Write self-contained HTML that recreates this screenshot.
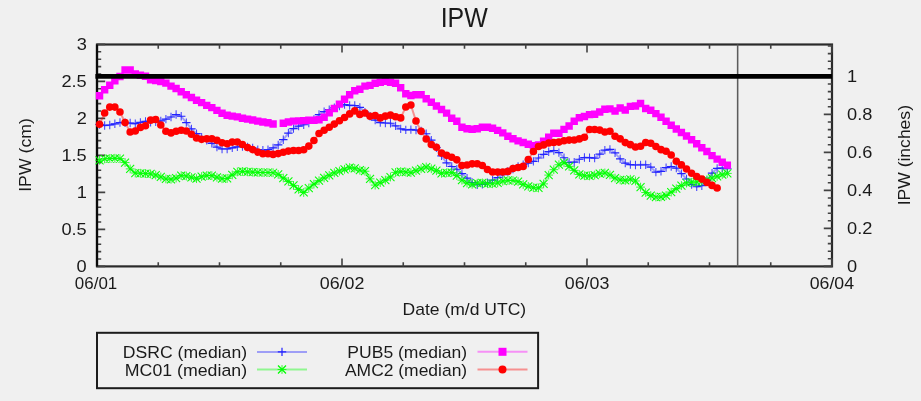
<!DOCTYPE html>
<html lang="en"><head><meta charset="utf-8"><title>IPW</title>
<style>html,body{margin:0;padding:0;background:#f0f0f0;}body{width:921px;height:401px;overflow:hidden;}svg{display:block;}text{font-family:"Liberation Sans", sans-serif;fill:#1a1a1a;}</style></head><body>
<svg width="921" height="401" viewBox="0 0 921 401">
<rect width="921" height="401" fill="#f0f0f0"/>
<rect x="97" y="44.5" width="735" height="221.89999999999998" stroke="#2a2a2a" stroke-width="2.2" fill="none"/>
<path d="M97 266.40h8.2M97 259.00h4.2M97 251.60h4.2M97 244.20h4.2M97 236.80h4.2M97 229.40h8.2M97 222.00h4.2M97 214.60h4.2M97 207.20h4.2M97 199.80h4.2M97 192.40h8.2M97 185.00h4.2M97 177.60h4.2M97 170.20h4.2M97 162.80h4.2M97 155.40h8.2M97 148.00h4.2M97 140.60h4.2M97 133.20h4.2M97 125.80h4.2M97 118.40h8.2M97 111.00h4.2M97 103.60h4.2M97 96.20h4.2M97 88.80h4.2M97 81.40h8.2M97 74.00h4.2M97 66.60h4.2M97 59.20h4.2M97 51.80h4.2M97 44.40h8.2M832 266.40h-8.2M832 258.80h-4.2M832 251.20h-4.2M832 243.60h-4.2M832 236.00h-4.2M832 228.40h-8.2M832 220.80h-4.2M832 213.20h-4.2M832 205.60h-4.2M832 198.00h-4.2M832 190.40h-8.2M832 182.80h-4.2M832 175.20h-4.2M832 167.60h-4.2M832 160.00h-4.2M832 152.40h-8.2M832 144.80h-4.2M832 137.20h-4.2M832 129.60h-4.2M832 122.00h-4.2M832 114.40h-8.2M832 106.80h-4.2M832 99.20h-4.2M832 91.60h-4.2M832 84.00h-4.2M832 76.40h-8.2M832 68.80h-4.2M832 61.20h-4.2M832 53.60h-4.2M832 46.00h-4.2M97.00 266.4v-8M97.00 44.5v8M158.25 266.4v-4.2M158.25 44.5v4.2M219.50 266.4v-4.2M219.50 44.5v4.2M280.75 266.4v-4.2M280.75 44.5v4.2M342.00 266.4v-8M342.00 44.5v8M403.25 266.4v-4.2M403.25 44.5v4.2M464.50 266.4v-4.2M464.50 44.5v4.2M525.75 266.4v-4.2M525.75 44.5v4.2M587.00 266.4v-8M587.00 44.5v8M648.25 266.4v-4.2M648.25 44.5v4.2M709.50 266.4v-4.2M709.50 44.5v4.2M770.75 266.4v-4.2M770.75 44.5v4.2M832.00 266.4v-8M832.00 44.5v8" stroke="#424242" stroke-width="1.6" fill="none"/>
<path d="M97 44.5V266.4" stroke="#0a0a0a" stroke-width="2.2"/>
<text transform="translate(440.69,26.8) scale(0.8970,1)" font-size="27.8" fill="#111">IPW</text>
<text transform="translate(76.57,272.0) scale(1.0850,1)" font-size="16.8" fill="#1a1a1a">0</text>
<text transform="translate(61.39,235.0) scale(1.0850,1)" font-size="16.8" fill="#1a1a1a">0.5</text>
<text transform="translate(76.75,198.0) scale(1.0850,1)" font-size="16.8" fill="#1a1a1a">1</text>
<text transform="translate(61.39,161.0) scale(1.0850,1)" font-size="16.8" fill="#1a1a1a">1.5</text>
<text transform="translate(76.75,124.0) scale(1.0850,1)" font-size="16.8" fill="#1a1a1a">2</text>
<text transform="translate(61.39,87.0) scale(1.0850,1)" font-size="16.8" fill="#1a1a1a">2.5</text>
<text transform="translate(76.66,50.0) scale(1.0850,1)" font-size="16.8" fill="#1a1a1a">3</text>
<text transform="translate(847.02,271.9) scale(1.0850,1)" font-size="16.8" fill="#1a1a1a">0</text>
<text transform="translate(847.02,233.9) scale(1.0850,1)" font-size="16.8" fill="#1a1a1a">0.2</text>
<text transform="translate(847.02,195.9) scale(1.0850,1)" font-size="16.8" fill="#1a1a1a">0.4</text>
<text transform="translate(847.02,157.9) scale(1.0850,1)" font-size="16.8" fill="#1a1a1a">0.6</text>
<text transform="translate(847.02,119.9) scale(1.0850,1)" font-size="16.8" fill="#1a1a1a">0.8</text>
<text transform="translate(847.03,81.9) scale(1.0850,1)" font-size="16.8" fill="#1a1a1a">1</text>
<text transform="translate(74.86,289.0) scale(1.0095,1)" font-size="16.8" fill="#1a1a1a">06/01</text>
<text transform="translate(319.73,289.0) scale(1.0637,1)" font-size="16.8" fill="#1a1a1a">06/02</text>
<text transform="translate(564.73,289.0) scale(1.0615,1)" font-size="16.8" fill="#1a1a1a">06/03</text>
<text transform="translate(809.74,289.0) scale(1.0549,1)" font-size="16.8" fill="#1a1a1a">06/04</text>
<text transform="translate(402.55,315.2) scale(1.0437,1)" font-size="16.8" fill="#1a1a1a">Date (m/d UTC)</text>
<text transform="translate(31.0,191.84) rotate(-90) scale(1.0533,1)" font-size="16.8" fill="#1a1a1a">IPW (cm)</text>
<text transform="translate(909.7,205.32) rotate(-90) scale(1.0441,1)" font-size="16.8" fill="#1a1a1a">IPW (inches)</text>
<g stroke="#2222ff" fill="none">
<polyline points="99.55,124.51 104.65,125.44 109.76,125.02 114.86,123.78 119.97,122.51 125.07,122.8 130.17,123.03 135.28,123.68 140.38,122.4 145.49,121.34 150.59,122.25 155.69,121.92 160.8,120.97 165.9,119.14 171.01,117.02 176.11,114.57 181.21,116.24 186.32,122.59 191.42,128.92 196.53,133.64 201.63,137.27 206.73,140.42 211.84,143.37 216.94,147.08 222.05,148.95 227.15,148.99 232.25,147.87 237.36,146.78 242.46,146.46 247.57,146.96 252.67,148.06 257.77,149.62 262.88,150.25 267.98,149.71 273.09,147.96 278.19,144.93 283.29,139.69 288.4,133.05 293.5,128.58 298.61,126.15 303.71,124.76 308.81,122.97 313.92,119.56 319.02,114.53 324.13,111.64 329.23,109.66 334.33,107.75 339.44,106.17 344.54,104.64 349.65,105.43 354.75,105.5 359.85,107.44 364.96,112.1 370.06,116.3 375.17,120.08 380.27,122.53 385.37,123.0 390.48,123.24 395.58,125.88 400.69,128.92 405.79,129.92 410.89,129.59 416.0,130.1 421.1,131.07 426.21,133.73 431.31,140.09 436.41,147.7 441.52,155.88 446.62,162.78 451.73,166.49 456.83,169.24 461.93,173.62 467.04,178.21 472.14,182.48 477.25,184.7 482.35,184.37 487.45,182.77 492.56,180.22 497.66,177.6 502.77,174.54 507.87,171.56 512.97,169.01 518.08,166.57 523.18,164.65 528.29,163.15 533.39,161.42 538.49,158.0 543.6,154.34 548.7,151.71 553.81,150.52 558.91,152.66 564.01,157.76 569.12,162.5 574.22,162.22 579.33,159.27 584.43,157.5 589.53,157.7 594.64,158.08 599.74,154.11 604.85,150.12 609.95,149.35 615.05,152.88 620.16,158.91 625.26,163.1 630.37,164.66 635.47,165.0 640.57,164.85 645.68,164.74 650.78,167.03 655.89,172.14 660.99,171.31 666.09,167.62 671.2,166.51 676.3,168.15 681.41,173.63 686.51,179.01 691.61,184.53 696.72,186.77 701.82,185.7 706.93,180.63 712.03,173.21 717.13,168.33 722.24,168.0 727.34,168.73" stroke-width="2" stroke-opacity="0.4"/>
<path d="M95.35 124.51h8.4M100.45 125.44h8.4M105.56 125.02h8.4M110.66 123.78h8.4M115.77 122.51h8.4M120.87 122.8h8.4M125.97 123.03h8.4M131.08 123.68h8.4M136.18 122.4h8.4M141.29 121.34h8.4M146.39 122.25h8.4M151.49 121.92h8.4M156.60 120.97h8.4M161.70 119.14h8.4M166.81 117.02h8.4M171.91 114.57h8.4M177.01 116.24h8.4M182.12 122.59h8.4M187.22 128.92h8.4M192.33 133.64h8.4M197.43 137.27h8.4M202.53 140.42h8.4M207.64 143.37h8.4M212.74 147.08h8.4M217.85 148.95h8.4M222.95 148.99h8.4M228.05 147.87h8.4M233.16 146.78h8.4M238.26 146.46h8.4M243.37 146.96h8.4M248.47 148.06h8.4M253.57 149.62h8.4M258.68 150.25h8.4M263.78 149.71h8.4M268.89 147.96h8.4M273.99 144.93h8.4M279.09 139.69h8.4M284.20 133.05h8.4M289.30 128.58h8.4M294.41 126.15h8.4M299.51 124.76h8.4M304.61 122.97h8.4M309.72 119.56h8.4M314.82 114.53h8.4M319.93 111.64h8.4M325.03 109.66h8.4M330.13 107.75h8.4M335.24 106.17h8.4M340.34 104.64h8.4M345.45 105.43h8.4M350.55 105.5h8.4M355.65 107.44h8.4M360.76 112.1h8.4M365.86 116.3h8.4M370.97 120.08h8.4M376.07 122.53h8.4M381.17 123.0h8.4M386.28 123.24h8.4M391.38 125.88h8.4M396.49 128.92h8.4M401.59 129.92h8.4M406.69 129.59h8.4M411.80 130.1h8.4M416.90 131.07h8.4M422.01 133.73h8.4M427.11 140.09h8.4M432.21 147.7h8.4M437.32 155.88h8.4M442.42 162.78h8.4M447.53 166.49h8.4M452.63 169.24h8.4M457.73 173.62h8.4M462.84 178.21h8.4M467.94 182.48h8.4M473.05 184.7h8.4M478.15 184.37h8.4M483.25 182.77h8.4M488.36 180.22h8.4M493.46 177.6h8.4M498.57 174.54h8.4M503.67 171.56h8.4M508.77 169.01h8.4M513.88 166.57h8.4M518.98 164.65h8.4M524.09 163.15h8.4M529.19 161.42h8.4M534.29 158.0h8.4M539.40 154.34h8.4M544.50 151.71h8.4M549.61 150.52h8.4M554.71 152.66h8.4M559.81 157.76h8.4M564.92 162.5h8.4M570.02 162.22h8.4M575.13 159.27h8.4M580.23 157.5h8.4M585.33 157.7h8.4M590.44 158.08h8.4M595.54 154.11h8.4M600.65 150.12h8.4M605.75 149.35h8.4M610.85 152.88h8.4M615.96 158.91h8.4M621.06 163.1h8.4M626.17 164.66h8.4M631.27 165.0h8.4M636.37 164.85h8.4M641.48 164.74h8.4M646.58 167.03h8.4M651.69 172.14h8.4M656.79 171.31h8.4M661.89 167.62h8.4M667.00 166.51h8.4M672.10 168.15h8.4M677.21 173.63h8.4M682.31 179.01h8.4M687.41 184.53h8.4M692.52 186.77h8.4M697.62 185.7h8.4M702.73 180.63h8.4M707.83 173.21h8.4M712.93 168.33h8.4M718.04 168.0h8.4M723.14 168.73h8.4" stroke-width="1.2"/>
<path d="M99.55 120.31v8.4M104.65 121.24v8.4M109.76 120.82v8.4M114.86 119.58v8.4M119.97 118.31v8.4M125.07 118.60v8.4M130.17 118.83v8.4M135.28 119.48v8.4M140.38 118.20v8.4M145.49 117.14v8.4M150.59 118.05v8.4M155.69 117.72v8.4M160.8 116.77v8.4M165.9 114.94v8.4M171.01 112.82v8.4M176.11 110.37v8.4M181.21 112.04v8.4M186.32 118.39v8.4M191.42 124.72v8.4M196.53 129.44v8.4M201.63 133.07v8.4M206.73 136.22v8.4M211.84 139.17v8.4M216.94 142.88v8.4M222.05 144.75v8.4M227.15 144.79v8.4M232.25 143.67v8.4M237.36 142.58v8.4M242.46 142.26v8.4M247.57 142.76v8.4M252.67 143.86v8.4M257.77 145.42v8.4M262.88 146.05v8.4M267.98 145.51v8.4M273.09 143.76v8.4M278.19 140.73v8.4M283.29 135.49v8.4M288.4 128.85v8.4M293.5 124.38v8.4M298.61 121.95v8.4M303.71 120.56v8.4M308.81 118.77v8.4M313.92 115.36v8.4M319.02 110.33v8.4M324.13 107.44v8.4M329.23 105.46v8.4M334.33 103.55v8.4M339.44 101.97v8.4M344.54 100.44v8.4M349.65 101.23v8.4M354.75 101.30v8.4M359.85 103.24v8.4M364.96 107.90v8.4M370.06 112.10v8.4M375.17 115.88v8.4M380.27 118.33v8.4M385.37 118.80v8.4M390.48 119.04v8.4M395.58 121.68v8.4M400.69 124.72v8.4M405.79 125.72v8.4M410.89 125.39v8.4M416.0 125.90v8.4M421.1 126.87v8.4M426.21 129.53v8.4M431.31 135.89v8.4M436.41 143.50v8.4M441.52 151.68v8.4M446.62 158.58v8.4M451.73 162.29v8.4M456.83 165.04v8.4M461.93 169.42v8.4M467.04 174.01v8.4M472.14 178.28v8.4M477.25 180.50v8.4M482.35 180.17v8.4M487.45 178.57v8.4M492.56 176.02v8.4M497.66 173.40v8.4M502.77 170.34v8.4M507.87 167.36v8.4M512.97 164.81v8.4M518.08 162.37v8.4M523.18 160.45v8.4M528.29 158.95v8.4M533.39 157.22v8.4M538.49 153.80v8.4M543.6 150.14v8.4M548.7 147.51v8.4M553.81 146.32v8.4M558.91 148.46v8.4M564.01 153.56v8.4M569.12 158.30v8.4M574.22 158.02v8.4M579.33 155.07v8.4M584.43 153.30v8.4M589.53 153.50v8.4M594.64 153.88v8.4M599.74 149.91v8.4M604.85 145.92v8.4M609.95 145.15v8.4M615.05 148.68v8.4M620.16 154.71v8.4M625.26 158.90v8.4M630.37 160.46v8.4M635.47 160.80v8.4M640.57 160.65v8.4M645.68 160.54v8.4M650.78 162.83v8.4M655.89 167.94v8.4M660.99 167.11v8.4M666.09 163.42v8.4M671.2 162.31v8.4M676.3 163.95v8.4M681.41 169.43v8.4M686.51 174.81v8.4M691.61 180.33v8.4M696.72 182.57v8.4M701.82 181.50v8.4M706.93 176.43v8.4M712.03 169.01v8.4M717.13 164.13v8.4M722.24 163.80v8.4M727.34 164.53v8.4" stroke-width="1.05" stroke-opacity="0.85"/></g>
<g stroke="#00ff00" fill="none">
<polyline points="99.55,160.28 104.65,158.85 109.76,158.51 114.86,158.26 119.97,158.65 125.07,162.57 130.17,168.9 135.28,173.01 140.38,173.27 145.49,173.52 150.59,173.89 155.69,175.08 160.8,176.93 165.9,178.89 171.01,179.26 176.11,178.03 181.21,175.62 186.32,176.02 191.42,177.4 196.53,178.64 201.63,176.6 206.73,175.54 211.84,175.61 216.94,177.31 222.05,178.71 227.15,178.43 232.25,174.97 237.36,171.91 242.46,171.43 247.57,171.82 252.67,172.13 257.77,172.39 262.88,172.5 267.98,172.5 273.09,172.75 278.19,174.4 283.29,178.03 288.4,181.43 293.5,185.42 298.61,189.41 303.71,192.48 308.81,188.04 313.92,184.13 319.02,180.69 324.13,177.97 329.23,175.38 334.33,172.83 339.44,171.02 344.54,169.3 349.65,167.55 354.75,168.4 359.85,170.22 364.96,171.24 370.06,178.83 375.17,185.09 380.27,182.6 385.37,180.1 390.48,177.02 395.58,172.4 400.69,171.55 405.79,172.02 410.89,172.64 416.0,170.6 421.1,168.77 426.21,167.02 431.31,168.73 436.41,170.71 441.52,173.26 446.62,172.79 451.73,172.6 456.83,175.58 461.93,180.2 467.04,183.04 472.14,184.4 477.25,183.23 482.35,182.89 487.45,183.74 492.56,183.75 497.66,182.86 502.77,181.21 507.87,180.35 512.97,180.5 518.08,181.58 523.18,184.47 528.29,186.38 533.39,187.72 538.49,187.95 543.6,183.87 548.7,175.08 553.81,169.69 558.91,164.73 564.01,162.71 569.12,166.37 574.22,170.38 579.33,174.46 584.43,175.74 589.53,175.91 594.64,175.06 599.74,173.65 604.85,172.94 609.95,174.98 615.05,178.03 620.16,179.85 625.26,180.44 630.37,179.25 635.47,180.98 640.57,187.11 645.68,192.54 650.78,195.58 655.89,197.04 660.99,196.92 666.09,195.52 671.2,192.12 676.3,188.72 681.41,185.55 686.51,183.0 691.61,182.23 696.72,181.83 701.82,181.32 706.93,179.77 712.03,178.07 717.13,176.37 722.24,174.67 727.34,173.4" stroke-width="2" stroke-opacity="0.4"/>
<path d="M95.15 160.28h8.8M99.55 155.88v8.8M100.25 158.85h8.8M104.65 154.45v8.8M105.36 158.51h8.8M109.76 154.11v8.8M110.46 158.26h8.8M114.86 153.86v8.8M115.57 158.65h8.8M119.97 154.25v8.8M120.67 162.57h8.8M125.07 158.17v8.8M125.77 168.9h8.8M130.17 164.50v8.8M130.88 173.01h8.8M135.28 168.61v8.8M135.98 173.27h8.8M140.38 168.87v8.8M141.09 173.52h8.8M145.49 169.12v8.8M146.19 173.89h8.8M150.59 169.49v8.8M151.29 175.08h8.8M155.69 170.68v8.8M156.40 176.93h8.8M160.8 172.53v8.8M161.50 178.89h8.8M165.9 174.49v8.8M166.61 179.26h8.8M171.01 174.86v8.8M171.71 178.03h8.8M176.11 173.63v8.8M176.81 175.62h8.8M181.21 171.22v8.8M181.92 176.02h8.8M186.32 171.62v8.8M187.02 177.4h8.8M191.42 173.00v8.8M192.13 178.64h8.8M196.53 174.24v8.8M197.23 176.6h8.8M201.63 172.20v8.8M202.33 175.54h8.8M206.73 171.14v8.8M207.44 175.61h8.8M211.84 171.21v8.8M212.54 177.31h8.8M216.94 172.91v8.8M217.65 178.71h8.8M222.05 174.31v8.8M222.75 178.43h8.8M227.15 174.03v8.8M227.85 174.97h8.8M232.25 170.57v8.8M232.96 171.91h8.8M237.36 167.51v8.8M238.06 171.43h8.8M242.46 167.03v8.8M243.17 171.82h8.8M247.57 167.42v8.8M248.27 172.13h8.8M252.67 167.73v8.8M253.37 172.39h8.8M257.77 167.99v8.8M258.48 172.5h8.8M262.88 168.10v8.8M263.58 172.5h8.8M267.98 168.10v8.8M268.69 172.75h8.8M273.09 168.35v8.8M273.79 174.4h8.8M278.19 170.00v8.8M278.89 178.03h8.8M283.29 173.63v8.8M284.00 181.43h8.8M288.4 177.03v8.8M289.10 185.42h8.8M293.5 181.02v8.8M294.21 189.41h8.8M298.61 185.01v8.8M299.31 192.48h8.8M303.71 188.08v8.8M304.41 188.04h8.8M308.81 183.64v8.8M309.52 184.13h8.8M313.92 179.73v8.8M314.62 180.69h8.8M319.02 176.29v8.8M319.73 177.97h8.8M324.13 173.57v8.8M324.83 175.38h8.8M329.23 170.98v8.8M329.93 172.83h8.8M334.33 168.43v8.8M335.04 171.02h8.8M339.44 166.62v8.8M340.14 169.3h8.8M344.54 164.90v8.8M345.25 167.55h8.8M349.65 163.15v8.8M350.35 168.4h8.8M354.75 164.00v8.8M355.45 170.22h8.8M359.85 165.82v8.8M360.56 171.24h8.8M364.96 166.84v8.8M365.66 178.83h8.8M370.06 174.43v8.8M370.77 185.09h8.8M375.17 180.69v8.8M375.87 182.6h8.8M380.27 178.20v8.8M380.97 180.1h8.8M385.37 175.70v8.8M386.08 177.02h8.8M390.48 172.62v8.8M391.18 172.4h8.8M395.58 168.00v8.8M396.29 171.55h8.8M400.69 167.15v8.8M401.39 172.02h8.8M405.79 167.62v8.8M406.49 172.64h8.8M410.89 168.24v8.8M411.60 170.6h8.8M416.0 166.20v8.8M416.70 168.77h8.8M421.1 164.37v8.8M421.81 167.02h8.8M426.21 162.62v8.8M426.91 168.73h8.8M431.31 164.33v8.8M432.01 170.71h8.8M436.41 166.31v8.8M437.12 173.26h8.8M441.52 168.86v8.8M442.22 172.79h8.8M446.62 168.39v8.8M447.33 172.6h8.8M451.73 168.20v8.8M452.43 175.58h8.8M456.83 171.18v8.8M457.53 180.2h8.8M461.93 175.80v8.8M462.64 183.04h8.8M467.04 178.64v8.8M467.74 184.4h8.8M472.14 180.00v8.8M472.85 183.23h8.8M477.25 178.83v8.8M477.95 182.89h8.8M482.35 178.49v8.8M483.05 183.74h8.8M487.45 179.34v8.8M488.16 183.75h8.8M492.56 179.35v8.8M493.26 182.86h8.8M497.66 178.46v8.8M498.37 181.21h8.8M502.77 176.81v8.8M503.47 180.35h8.8M507.87 175.95v8.8M508.57 180.5h8.8M512.97 176.10v8.8M513.68 181.58h8.8M518.08 177.18v8.8M518.78 184.47h8.8M523.18 180.07v8.8M523.89 186.38h8.8M528.29 181.98v8.8M528.99 187.72h8.8M533.39 183.32v8.8M534.09 187.95h8.8M538.49 183.55v8.8M539.20 183.87h8.8M543.6 179.47v8.8M544.30 175.08h8.8M548.7 170.68v8.8M549.41 169.69h8.8M553.81 165.29v8.8M554.51 164.73h8.8M558.91 160.33v8.8M559.61 162.71h8.8M564.01 158.31v8.8M564.72 166.37h8.8M569.12 161.97v8.8M569.82 170.38h8.8M574.22 165.98v8.8M574.93 174.46h8.8M579.33 170.06v8.8M580.03 175.74h8.8M584.43 171.34v8.8M585.13 175.91h8.8M589.53 171.51v8.8M590.24 175.06h8.8M594.64 170.66v8.8M595.34 173.65h8.8M599.74 169.25v8.8M600.45 172.94h8.8M604.85 168.54v8.8M605.55 174.98h8.8M609.95 170.58v8.8M610.65 178.03h8.8M615.05 173.63v8.8M615.76 179.85h8.8M620.16 175.45v8.8M620.86 180.44h8.8M625.26 176.04v8.8M625.97 179.25h8.8M630.37 174.85v8.8M631.07 180.98h8.8M635.47 176.58v8.8M636.17 187.11h8.8M640.57 182.71v8.8M641.28 192.54h8.8M645.68 188.14v8.8M646.38 195.58h8.8M650.78 191.18v8.8M651.49 197.04h8.8M655.89 192.64v8.8M656.59 196.92h8.8M660.99 192.52v8.8M661.69 195.52h8.8M666.09 191.12v8.8M666.80 192.12h8.8M671.2 187.72v8.8M671.90 188.72h8.8M676.3 184.32v8.8M677.01 185.55h8.8M681.41 181.15v8.8M682.11 183.0h8.8M686.51 178.60v8.8M687.21 182.23h8.8M691.61 177.83v8.8M692.32 181.83h8.8M696.72 177.43v8.8M697.42 181.32h8.8M701.82 176.92v8.8M702.53 179.77h8.8M706.93 175.37v8.8M707.63 178.07h8.8M712.03 173.67v8.8M712.73 176.37h8.8M717.13 171.97v8.8M717.84 174.67h8.8M722.24 170.27v8.8M722.94 173.4h8.8M727.34 169.00v8.8" stroke-width="0.8"/>
<path d="M95.55 156.28l8 8M95.55 164.28l8 -8M100.65 154.85l8 8M100.65 162.85l8 -8M105.76 154.51l8 8M105.76 162.51l8 -8M110.86 154.26l8 8M110.86 162.26l8 -8M115.97 154.65l8 8M115.97 162.65l8 -8M121.07 158.57l8 8M121.07 166.57l8 -8M126.17 164.90l8 8M126.17 172.90l8 -8M131.28 169.01l8 8M131.28 177.01l8 -8M136.38 169.27l8 8M136.38 177.27l8 -8M141.49 169.52l8 8M141.49 177.52l8 -8M146.59 169.89l8 8M146.59 177.89l8 -8M151.69 171.08l8 8M151.69 179.08l8 -8M156.80 172.93l8 8M156.80 180.93l8 -8M161.90 174.89l8 8M161.90 182.89l8 -8M167.01 175.26l8 8M167.01 183.26l8 -8M172.11 174.03l8 8M172.11 182.03l8 -8M177.21 171.62l8 8M177.21 179.62l8 -8M182.32 172.02l8 8M182.32 180.02l8 -8M187.42 173.40l8 8M187.42 181.40l8 -8M192.53 174.64l8 8M192.53 182.64l8 -8M197.63 172.60l8 8M197.63 180.60l8 -8M202.73 171.54l8 8M202.73 179.54l8 -8M207.84 171.61l8 8M207.84 179.61l8 -8M212.94 173.31l8 8M212.94 181.31l8 -8M218.05 174.71l8 8M218.05 182.71l8 -8M223.15 174.43l8 8M223.15 182.43l8 -8M228.25 170.97l8 8M228.25 178.97l8 -8M233.36 167.91l8 8M233.36 175.91l8 -8M238.46 167.43l8 8M238.46 175.43l8 -8M243.57 167.82l8 8M243.57 175.82l8 -8M248.67 168.13l8 8M248.67 176.13l8 -8M253.77 168.39l8 8M253.77 176.39l8 -8M258.88 168.50l8 8M258.88 176.50l8 -8M263.98 168.50l8 8M263.98 176.50l8 -8M269.09 168.75l8 8M269.09 176.75l8 -8M274.19 170.40l8 8M274.19 178.40l8 -8M279.29 174.03l8 8M279.29 182.03l8 -8M284.40 177.43l8 8M284.40 185.43l8 -8M289.50 181.42l8 8M289.50 189.42l8 -8M294.61 185.41l8 8M294.61 193.41l8 -8M299.71 188.48l8 8M299.71 196.48l8 -8M304.81 184.04l8 8M304.81 192.04l8 -8M309.92 180.13l8 8M309.92 188.13l8 -8M315.02 176.69l8 8M315.02 184.69l8 -8M320.13 173.97l8 8M320.13 181.97l8 -8M325.23 171.38l8 8M325.23 179.38l8 -8M330.33 168.83l8 8M330.33 176.83l8 -8M335.44 167.02l8 8M335.44 175.02l8 -8M340.54 165.30l8 8M340.54 173.30l8 -8M345.65 163.55l8 8M345.65 171.55l8 -8M350.75 164.40l8 8M350.75 172.40l8 -8M355.85 166.22l8 8M355.85 174.22l8 -8M360.96 167.24l8 8M360.96 175.24l8 -8M366.06 174.83l8 8M366.06 182.83l8 -8M371.17 181.09l8 8M371.17 189.09l8 -8M376.27 178.60l8 8M376.27 186.60l8 -8M381.37 176.10l8 8M381.37 184.10l8 -8M386.48 173.02l8 8M386.48 181.02l8 -8M391.58 168.40l8 8M391.58 176.40l8 -8M396.69 167.55l8 8M396.69 175.55l8 -8M401.79 168.02l8 8M401.79 176.02l8 -8M406.89 168.64l8 8M406.89 176.64l8 -8M412.00 166.60l8 8M412.00 174.60l8 -8M417.10 164.77l8 8M417.10 172.77l8 -8M422.21 163.02l8 8M422.21 171.02l8 -8M427.31 164.73l8 8M427.31 172.73l8 -8M432.41 166.71l8 8M432.41 174.71l8 -8M437.52 169.26l8 8M437.52 177.26l8 -8M442.62 168.79l8 8M442.62 176.79l8 -8M447.73 168.60l8 8M447.73 176.60l8 -8M452.83 171.58l8 8M452.83 179.58l8 -8M457.93 176.20l8 8M457.93 184.20l8 -8M463.04 179.04l8 8M463.04 187.04l8 -8M468.14 180.40l8 8M468.14 188.40l8 -8M473.25 179.23l8 8M473.25 187.23l8 -8M478.35 178.89l8 8M478.35 186.89l8 -8M483.45 179.74l8 8M483.45 187.74l8 -8M488.56 179.75l8 8M488.56 187.75l8 -8M493.66 178.86l8 8M493.66 186.86l8 -8M498.77 177.21l8 8M498.77 185.21l8 -8M503.87 176.35l8 8M503.87 184.35l8 -8M508.97 176.50l8 8M508.97 184.50l8 -8M514.08 177.58l8 8M514.08 185.58l8 -8M519.18 180.47l8 8M519.18 188.47l8 -8M524.29 182.38l8 8M524.29 190.38l8 -8M529.39 183.72l8 8M529.39 191.72l8 -8M534.49 183.95l8 8M534.49 191.95l8 -8M539.60 179.87l8 8M539.60 187.87l8 -8M544.70 171.08l8 8M544.70 179.08l8 -8M549.81 165.69l8 8M549.81 173.69l8 -8M554.91 160.73l8 8M554.91 168.73l8 -8M560.01 158.71l8 8M560.01 166.71l8 -8M565.12 162.37l8 8M565.12 170.37l8 -8M570.22 166.38l8 8M570.22 174.38l8 -8M575.33 170.46l8 8M575.33 178.46l8 -8M580.43 171.74l8 8M580.43 179.74l8 -8M585.53 171.91l8 8M585.53 179.91l8 -8M590.64 171.06l8 8M590.64 179.06l8 -8M595.74 169.65l8 8M595.74 177.65l8 -8M600.85 168.94l8 8M600.85 176.94l8 -8M605.95 170.98l8 8M605.95 178.98l8 -8M611.05 174.03l8 8M611.05 182.03l8 -8M616.16 175.85l8 8M616.16 183.85l8 -8M621.26 176.44l8 8M621.26 184.44l8 -8M626.37 175.25l8 8M626.37 183.25l8 -8M631.47 176.98l8 8M631.47 184.98l8 -8M636.57 183.11l8 8M636.57 191.11l8 -8M641.68 188.54l8 8M641.68 196.54l8 -8M646.78 191.58l8 8M646.78 199.58l8 -8M651.89 193.04l8 8M651.89 201.04l8 -8M656.99 192.92l8 8M656.99 200.92l8 -8M662.09 191.52l8 8M662.09 199.52l8 -8M667.20 188.12l8 8M667.20 196.12l8 -8M672.30 184.72l8 8M672.30 192.72l8 -8M677.41 181.55l8 8M677.41 189.55l8 -8M682.51 179.00l8 8M682.51 187.00l8 -8M687.61 178.23l8 8M687.61 186.23l8 -8M692.72 177.83l8 8M692.72 185.83l8 -8M697.82 177.32l8 8M697.82 185.32l8 -8M702.93 175.77l8 8M702.93 183.77l8 -8M708.03 174.07l8 8M708.03 182.07l8 -8M713.13 172.37l8 8M713.13 180.37l8 -8M718.24 170.67l8 8M718.24 178.67l8 -8M723.34 169.40l8 8M723.34 177.40l8 -8" stroke-width="1.05"/></g>
<g fill="#ff00ff" stroke="#ff00ff">
<polyline points="99.55,95.7 104.65,89.7 109.76,85.2 114.86,80.7 119.97,76.5 125.07,70.0 130.17,70.0 135.28,73.9 140.38,75.2 145.49,76.3 150.59,79.8 155.69,80.6 160.8,81.5 165.9,83.1 171.01,86.1 176.11,88.5 181.21,91.7 186.32,94.7 191.42,97.5 196.53,100.3 201.63,102.6 206.73,105.4 211.84,107.6 216.94,110.4 222.05,113.2 227.15,115.3 232.25,116.1 237.36,116.9 242.46,118.3 247.57,119.1 252.67,120.0 257.77,121.1 262.88,122.0 267.98,122.8 273.09,124.0" stroke-width="2" stroke-opacity="0.4" fill="none"/>
<polyline points="283.29,123.3 288.4,122.0 293.5,121.1 298.61,120.9 303.71,120.6 308.81,120.2 313.92,120.2 319.02,119.7 324.13,117.2 329.23,112.9 334.33,108.5 339.44,104.1 344.54,99.2 349.65,94.8 354.75,90.7 359.85,89.2 364.96,86.1 370.06,85.4 375.17,83.2 380.27,82.3 385.37,81.2 390.48,82.3 395.58,83.2 400.69,87.7 405.79,93.7 410.89,95.5 416.0,94.8 421.1,94.8 426.21,98.7 431.31,102.3 436.41,106.0 441.52,109.5 446.62,113.1 451.73,118.3 456.83,121.3 461.93,127.3 467.04,128.7 472.14,129.3 477.25,128.7 482.35,127.3 487.45,127.2 492.56,128.2 497.66,130.4 502.77,132.9 507.87,136.3 512.97,138.7 518.08,140.9 523.18,142.5 528.29,144.3 533.39,145.6 538.49,145.0 543.6,141.1 548.7,137.2 553.81,133.3 558.91,133.3 564.01,129.4 569.12,126.0 574.22,121.3 579.33,117.8 584.43,116.5 589.53,114.6 594.64,114.2 599.74,112.0 604.85,109.2 609.95,108.9 615.05,111.0 620.16,108.0 625.26,110.0 630.37,106.4 635.47,106.0 640.57,103.5 645.68,108.5 650.78,110.2 655.89,113.6 660.99,117.3 666.09,121.3 671.2,125.2 676.3,129.0 681.41,132.5 686.51,136.0 691.61,139.8 696.72,143.8 701.82,147.8 706.93,151.5 712.03,155.6 717.13,159.1 722.24,162.2 727.34,165.1" stroke-width="2" stroke-opacity="0.4" fill="none"/>
<path d="M95.85 92.00h7.4v7.4h-7.4zM100.95 86.00h7.4v7.4h-7.4zM106.06 81.50h7.4v7.4h-7.4zM111.16 77.00h7.4v7.4h-7.4zM116.27 72.80h7.4v7.4h-7.4zM121.37 66.30h7.4v7.4h-7.4zM126.47 66.30h7.4v7.4h-7.4zM131.58 70.20h7.4v7.4h-7.4zM136.68 71.50h7.4v7.4h-7.4zM141.79 72.60h7.4v7.4h-7.4zM146.89 76.10h7.4v7.4h-7.4zM151.99 76.90h7.4v7.4h-7.4zM157.10 77.80h7.4v7.4h-7.4zM162.20 79.40h7.4v7.4h-7.4zM167.31 82.40h7.4v7.4h-7.4zM172.41 84.80h7.4v7.4h-7.4zM177.51 88.00h7.4v7.4h-7.4zM182.62 91.00h7.4v7.4h-7.4zM187.72 93.80h7.4v7.4h-7.4zM192.83 96.60h7.4v7.4h-7.4zM197.93 98.90h7.4v7.4h-7.4zM203.03 101.70h7.4v7.4h-7.4zM208.14 103.90h7.4v7.4h-7.4zM213.24 106.70h7.4v7.4h-7.4zM218.35 109.50h7.4v7.4h-7.4zM223.45 111.60h7.4v7.4h-7.4zM228.55 112.40h7.4v7.4h-7.4zM233.66 113.20h7.4v7.4h-7.4zM238.76 114.60h7.4v7.4h-7.4zM243.87 115.40h7.4v7.4h-7.4zM248.97 116.30h7.4v7.4h-7.4zM254.07 117.40h7.4v7.4h-7.4zM259.18 118.30h7.4v7.4h-7.4zM264.28 119.10h7.4v7.4h-7.4zM269.39 120.30h7.4v7.4h-7.4zM279.59 119.60h7.4v7.4h-7.4zM284.70 118.30h7.4v7.4h-7.4zM289.80 117.40h7.4v7.4h-7.4zM294.91 117.20h7.4v7.4h-7.4zM300.01 116.90h7.4v7.4h-7.4zM305.11 116.50h7.4v7.4h-7.4zM310.22 116.50h7.4v7.4h-7.4zM315.32 116.00h7.4v7.4h-7.4zM320.43 113.50h7.4v7.4h-7.4zM325.53 109.20h7.4v7.4h-7.4zM330.63 104.80h7.4v7.4h-7.4zM335.74 100.40h7.4v7.4h-7.4zM340.84 95.50h7.4v7.4h-7.4zM345.95 91.10h7.4v7.4h-7.4zM351.05 87.00h7.4v7.4h-7.4zM356.15 85.50h7.4v7.4h-7.4zM361.26 82.40h7.4v7.4h-7.4zM366.36 81.70h7.4v7.4h-7.4zM371.47 79.50h7.4v7.4h-7.4zM376.57 78.60h7.4v7.4h-7.4zM381.67 77.50h7.4v7.4h-7.4zM386.78 78.60h7.4v7.4h-7.4zM391.88 79.50h7.4v7.4h-7.4zM396.99 84.00h7.4v7.4h-7.4zM402.09 90.00h7.4v7.4h-7.4zM407.19 91.80h7.4v7.4h-7.4zM412.30 91.10h7.4v7.4h-7.4zM417.40 91.10h7.4v7.4h-7.4zM422.51 95.00h7.4v7.4h-7.4zM427.61 98.60h7.4v7.4h-7.4zM432.71 102.30h7.4v7.4h-7.4zM437.82 105.80h7.4v7.4h-7.4zM442.92 109.40h7.4v7.4h-7.4zM448.03 114.60h7.4v7.4h-7.4zM453.13 117.60h7.4v7.4h-7.4zM458.23 123.60h7.4v7.4h-7.4zM463.34 125.00h7.4v7.4h-7.4zM468.44 125.60h7.4v7.4h-7.4zM473.55 125.00h7.4v7.4h-7.4zM478.65 123.60h7.4v7.4h-7.4zM483.75 123.50h7.4v7.4h-7.4zM488.86 124.50h7.4v7.4h-7.4zM493.96 126.70h7.4v7.4h-7.4zM499.07 129.20h7.4v7.4h-7.4zM504.17 132.60h7.4v7.4h-7.4zM509.27 135.00h7.4v7.4h-7.4zM514.38 137.20h7.4v7.4h-7.4zM519.48 138.80h7.4v7.4h-7.4zM524.59 140.60h7.4v7.4h-7.4zM529.69 141.90h7.4v7.4h-7.4zM534.79 141.30h7.4v7.4h-7.4zM539.90 137.40h7.4v7.4h-7.4zM545.00 133.50h7.4v7.4h-7.4zM550.11 129.60h7.4v7.4h-7.4zM555.21 129.60h7.4v7.4h-7.4zM560.31 125.70h7.4v7.4h-7.4zM565.42 122.30h7.4v7.4h-7.4zM570.52 117.60h7.4v7.4h-7.4zM575.63 114.10h7.4v7.4h-7.4zM580.73 112.80h7.4v7.4h-7.4zM585.83 110.90h7.4v7.4h-7.4zM590.94 110.50h7.4v7.4h-7.4zM596.04 108.30h7.4v7.4h-7.4zM601.15 105.50h7.4v7.4h-7.4zM606.25 105.20h7.4v7.4h-7.4zM611.35 107.30h7.4v7.4h-7.4zM616.46 104.30h7.4v7.4h-7.4zM621.56 106.30h7.4v7.4h-7.4zM626.67 102.70h7.4v7.4h-7.4zM631.77 102.30h7.4v7.4h-7.4zM636.87 99.80h7.4v7.4h-7.4zM641.98 104.80h7.4v7.4h-7.4zM647.08 106.50h7.4v7.4h-7.4zM652.19 109.90h7.4v7.4h-7.4zM657.29 113.60h7.4v7.4h-7.4zM662.39 117.60h7.4v7.4h-7.4zM667.50 121.50h7.4v7.4h-7.4zM672.60 125.30h7.4v7.4h-7.4zM677.71 128.80h7.4v7.4h-7.4zM682.81 132.30h7.4v7.4h-7.4zM687.91 136.10h7.4v7.4h-7.4zM693.02 140.10h7.4v7.4h-7.4zM698.12 144.10h7.4v7.4h-7.4zM703.23 147.80h7.4v7.4h-7.4zM708.33 151.90h7.4v7.4h-7.4zM713.43 155.40h7.4v7.4h-7.4zM718.54 158.50h7.4v7.4h-7.4zM723.64 161.40h7.4v7.4h-7.4z" stroke="none"/></g>
<g fill="#ff0000" stroke="#ff0000">
<polyline points="99.55,124.29 104.65,113.0 109.76,107.1 114.86,107.1 119.97,112.04 125.07,122.53 130.17,131.97 135.28,131.04 140.38,127.4 145.49,125.72 150.59,120.17 155.69,119.51 160.8,125.06 165.9,131.3 171.01,132.92 176.11,131.3 181.21,130.26 186.32,130.95 191.42,134.19 196.53,138.02 201.63,139.37 206.73,138.86 211.84,138.75 216.94,140.3 222.05,142.77 227.15,143.7 232.25,142.09 237.36,142.0 242.46,144.48 247.57,147.53 252.67,149.59 257.77,152.1 262.88,153.75 267.98,153.82 273.09,154.41 278.19,153.58 283.29,152.3 288.4,151.12 293.5,150.5 298.61,150.5 303.71,149.77 308.81,146.09 313.92,140.56 319.02,133.57 324.13,130.27 329.23,127.21 334.33,124.12 339.44,120.8 344.54,117.45 349.65,113.92 354.75,110.92 359.85,114.4 364.96,113.01 370.06,116.24 375.17,115.58 380.27,117.91 385.37,116.16 390.48,115.15 395.58,116.79 400.69,117.89 405.79,106.98 410.89,104.96 416.0,121.0 421.1,131.2 426.21,138.93 431.31,144.53 436.41,147.2 441.52,153.12 446.62,155.33 451.73,157.21 456.83,159.84 461.93,165.43 467.04,165.04 472.14,163.84 477.25,163.75 482.35,165.45 487.45,169.55 492.56,171.98 497.66,172.11 502.77,172.0 507.87,171.38 512.97,168.5 518.08,167.57 523.18,166.39 528.29,159.45 533.39,151.56 538.49,146.49 543.6,144.89 548.7,143.02 553.81,142.5 558.91,142.11 564.01,140.8 569.12,140.09 574.22,140.0 579.33,138.92 584.43,137.2 589.53,129.5 594.64,129.51 599.74,130.1 604.85,131.95 609.95,131.26 615.05,136.28 620.16,138.87 625.26,142.6 630.37,144.67 635.47,146.99 640.57,146.19 645.68,142.52 650.78,143.18 655.89,146.5 660.99,149.65 666.09,151.2 671.2,154.96 676.3,161.29 681.41,164.92 686.51,169.02 691.61,173.24 696.72,176.48 701.82,179.12 706.93,182.41 712.03,185.39 717.13,187.97" stroke-width="2" stroke-opacity="0.4" fill="none"/>
<circle cx="99.55" cy="124.29" r="3.8" stroke="none"/>
<circle cx="104.65" cy="113.0" r="3.8" stroke="none"/>
<circle cx="109.76" cy="107.1" r="3.8" stroke="none"/>
<circle cx="114.86" cy="107.1" r="3.8" stroke="none"/>
<circle cx="119.97" cy="112.04" r="3.8" stroke="none"/>
<circle cx="125.07" cy="122.53" r="3.8" stroke="none"/>
<circle cx="130.17" cy="131.97" r="3.8" stroke="none"/>
<circle cx="135.28" cy="131.04" r="3.8" stroke="none"/>
<circle cx="140.38" cy="127.4" r="3.8" stroke="none"/>
<circle cx="145.49" cy="125.72" r="3.8" stroke="none"/>
<circle cx="150.59" cy="120.17" r="3.8" stroke="none"/>
<circle cx="155.69" cy="119.51" r="3.8" stroke="none"/>
<circle cx="160.8" cy="125.06" r="3.8" stroke="none"/>
<circle cx="165.9" cy="131.3" r="3.8" stroke="none"/>
<circle cx="171.01" cy="132.92" r="3.8" stroke="none"/>
<circle cx="176.11" cy="131.3" r="3.8" stroke="none"/>
<circle cx="181.21" cy="130.26" r="3.8" stroke="none"/>
<circle cx="186.32" cy="130.95" r="3.8" stroke="none"/>
<circle cx="191.42" cy="134.19" r="3.8" stroke="none"/>
<circle cx="196.53" cy="138.02" r="3.8" stroke="none"/>
<circle cx="201.63" cy="139.37" r="3.8" stroke="none"/>
<circle cx="206.73" cy="138.86" r="3.8" stroke="none"/>
<circle cx="211.84" cy="138.75" r="3.8" stroke="none"/>
<circle cx="216.94" cy="140.3" r="3.8" stroke="none"/>
<circle cx="222.05" cy="142.77" r="3.8" stroke="none"/>
<circle cx="227.15" cy="143.7" r="3.8" stroke="none"/>
<circle cx="232.25" cy="142.09" r="3.8" stroke="none"/>
<circle cx="237.36" cy="142.0" r="3.8" stroke="none"/>
<circle cx="242.46" cy="144.48" r="3.8" stroke="none"/>
<circle cx="247.57" cy="147.53" r="3.8" stroke="none"/>
<circle cx="252.67" cy="149.59" r="3.8" stroke="none"/>
<circle cx="257.77" cy="152.1" r="3.8" stroke="none"/>
<circle cx="262.88" cy="153.75" r="3.8" stroke="none"/>
<circle cx="267.98" cy="153.82" r="3.8" stroke="none"/>
<circle cx="273.09" cy="154.41" r="3.8" stroke="none"/>
<circle cx="278.19" cy="153.58" r="3.8" stroke="none"/>
<circle cx="283.29" cy="152.3" r="3.8" stroke="none"/>
<circle cx="288.4" cy="151.12" r="3.8" stroke="none"/>
<circle cx="293.5" cy="150.5" r="3.8" stroke="none"/>
<circle cx="298.61" cy="150.5" r="3.8" stroke="none"/>
<circle cx="303.71" cy="149.77" r="3.8" stroke="none"/>
<circle cx="308.81" cy="146.09" r="3.8" stroke="none"/>
<circle cx="313.92" cy="140.56" r="3.8" stroke="none"/>
<circle cx="319.02" cy="133.57" r="3.8" stroke="none"/>
<circle cx="324.13" cy="130.27" r="3.8" stroke="none"/>
<circle cx="329.23" cy="127.21" r="3.8" stroke="none"/>
<circle cx="334.33" cy="124.12" r="3.8" stroke="none"/>
<circle cx="339.44" cy="120.8" r="3.8" stroke="none"/>
<circle cx="344.54" cy="117.45" r="3.8" stroke="none"/>
<circle cx="349.65" cy="113.92" r="3.8" stroke="none"/>
<circle cx="354.75" cy="110.92" r="3.8" stroke="none"/>
<circle cx="359.85" cy="114.4" r="3.8" stroke="none"/>
<circle cx="364.96" cy="113.01" r="3.8" stroke="none"/>
<circle cx="370.06" cy="116.24" r="3.8" stroke="none"/>
<circle cx="375.17" cy="115.58" r="3.8" stroke="none"/>
<circle cx="380.27" cy="117.91" r="3.8" stroke="none"/>
<circle cx="385.37" cy="116.16" r="3.8" stroke="none"/>
<circle cx="390.48" cy="115.15" r="3.8" stroke="none"/>
<circle cx="395.58" cy="116.79" r="3.8" stroke="none"/>
<circle cx="400.69" cy="117.89" r="3.8" stroke="none"/>
<circle cx="405.79" cy="106.98" r="3.8" stroke="none"/>
<circle cx="410.89" cy="104.96" r="3.8" stroke="none"/>
<circle cx="416.0" cy="121.0" r="3.8" stroke="none"/>
<circle cx="421.1" cy="131.2" r="3.8" stroke="none"/>
<circle cx="426.21" cy="138.93" r="3.8" stroke="none"/>
<circle cx="431.31" cy="144.53" r="3.8" stroke="none"/>
<circle cx="436.41" cy="147.2" r="3.8" stroke="none"/>
<circle cx="441.52" cy="153.12" r="3.8" stroke="none"/>
<circle cx="446.62" cy="155.33" r="3.8" stroke="none"/>
<circle cx="451.73" cy="157.21" r="3.8" stroke="none"/>
<circle cx="456.83" cy="159.84" r="3.8" stroke="none"/>
<circle cx="461.93" cy="165.43" r="3.8" stroke="none"/>
<circle cx="467.04" cy="165.04" r="3.8" stroke="none"/>
<circle cx="472.14" cy="163.84" r="3.8" stroke="none"/>
<circle cx="477.25" cy="163.75" r="3.8" stroke="none"/>
<circle cx="482.35" cy="165.45" r="3.8" stroke="none"/>
<circle cx="487.45" cy="169.55" r="3.8" stroke="none"/>
<circle cx="492.56" cy="171.98" r="3.8" stroke="none"/>
<circle cx="497.66" cy="172.11" r="3.8" stroke="none"/>
<circle cx="502.77" cy="172.0" r="3.8" stroke="none"/>
<circle cx="507.87" cy="171.38" r="3.8" stroke="none"/>
<circle cx="512.97" cy="168.5" r="3.8" stroke="none"/>
<circle cx="518.08" cy="167.57" r="3.8" stroke="none"/>
<circle cx="523.18" cy="166.39" r="3.8" stroke="none"/>
<circle cx="528.29" cy="159.45" r="3.8" stroke="none"/>
<circle cx="533.39" cy="151.56" r="3.8" stroke="none"/>
<circle cx="538.49" cy="146.49" r="3.8" stroke="none"/>
<circle cx="543.6" cy="144.89" r="3.8" stroke="none"/>
<circle cx="548.7" cy="143.02" r="3.8" stroke="none"/>
<circle cx="553.81" cy="142.5" r="3.8" stroke="none"/>
<circle cx="558.91" cy="142.11" r="3.8" stroke="none"/>
<circle cx="564.01" cy="140.8" r="3.8" stroke="none"/>
<circle cx="569.12" cy="140.09" r="3.8" stroke="none"/>
<circle cx="574.22" cy="140.0" r="3.8" stroke="none"/>
<circle cx="579.33" cy="138.92" r="3.8" stroke="none"/>
<circle cx="584.43" cy="137.2" r="3.8" stroke="none"/>
<circle cx="589.53" cy="129.5" r="3.8" stroke="none"/>
<circle cx="594.64" cy="129.51" r="3.8" stroke="none"/>
<circle cx="599.74" cy="130.1" r="3.8" stroke="none"/>
<circle cx="604.85" cy="131.95" r="3.8" stroke="none"/>
<circle cx="609.95" cy="131.26" r="3.8" stroke="none"/>
<circle cx="615.05" cy="136.28" r="3.8" stroke="none"/>
<circle cx="620.16" cy="138.87" r="3.8" stroke="none"/>
<circle cx="625.26" cy="142.6" r="3.8" stroke="none"/>
<circle cx="630.37" cy="144.67" r="3.8" stroke="none"/>
<circle cx="635.47" cy="146.99" r="3.8" stroke="none"/>
<circle cx="640.57" cy="146.19" r="3.8" stroke="none"/>
<circle cx="645.68" cy="142.52" r="3.8" stroke="none"/>
<circle cx="650.78" cy="143.18" r="3.8" stroke="none"/>
<circle cx="655.89" cy="146.5" r="3.8" stroke="none"/>
<circle cx="660.99" cy="149.65" r="3.8" stroke="none"/>
<circle cx="666.09" cy="151.2" r="3.8" stroke="none"/>
<circle cx="671.2" cy="154.96" r="3.8" stroke="none"/>
<circle cx="676.3" cy="161.29" r="3.8" stroke="none"/>
<circle cx="681.41" cy="164.92" r="3.8" stroke="none"/>
<circle cx="686.51" cy="169.02" r="3.8" stroke="none"/>
<circle cx="691.61" cy="173.24" r="3.8" stroke="none"/>
<circle cx="696.72" cy="176.48" r="3.8" stroke="none"/>
<circle cx="701.82" cy="179.12" r="3.8" stroke="none"/>
<circle cx="706.93" cy="182.41" r="3.8" stroke="none"/>
<circle cx="712.03" cy="185.39" r="3.8" stroke="none"/>
<circle cx="717.13" cy="187.97" r="3.8" stroke="none"/>
</g>
<path d="M737.65 44.5V266.4" stroke="#5c5c5c" stroke-width="1.55"/>
<path d="M95.4 76.35H832" stroke="#000" stroke-width="4.8"/>
<rect x="97" y="332.8" width="441.1" height="55.4" fill="none" stroke="#1c1c1c" stroke-width="2"/>
<text transform="translate(122.75,358.1) scale(1.0493,1)" font-size="16.8" fill="#1a1a1a">DSRC (median)</text>
<path d="M257 351.9h50" stroke="#2222ff" stroke-width="2" stroke-opacity="0.4"/>
<path d="M277.8 351.9h8.4M282 347.7v8.4" stroke="#2222ff" stroke-width="1.2" fill="none"/>
<text transform="translate(124.84,375.6) scale(1.0568,1)" font-size="16.8" fill="#1a1a1a">MC01 (median)</text>
<path d="M257 369.5h50" stroke="#00ff00" stroke-width="2" stroke-opacity="0.4"/>
<path d="M277.6 369.5h8.8M282 365.1v8.8" stroke="#00ff00" stroke-width="0.8" fill="none"/>
<path d="M278 365.5l8 8M278 373.5l8 -8" stroke="#00ff00" stroke-width="1.25" fill="none"/>
<text transform="translate(347.35,358.1) scale(1.0442,1)" font-size="16.8" fill="#1a1a1a">PUB5 (median)</text>
<path d="M477.5 351.8h50" stroke="#ff00ff" stroke-width="2" stroke-opacity="0.4"/>
<rect x="498.5" y="347.8" width="8" height="8" fill="#ff00ff"/>
<text transform="translate(344.96,375.6) scale(1.0395,1)" font-size="16.8" fill="#1a1a1a">AMC2 (median)</text>
<path d="M477.5 369.5h50" stroke="#ff0000" stroke-width="2" stroke-opacity="0.4"/>
<circle cx="502.5" cy="369.5" r="4" fill="#ff0000"/>
</svg></body></html>
